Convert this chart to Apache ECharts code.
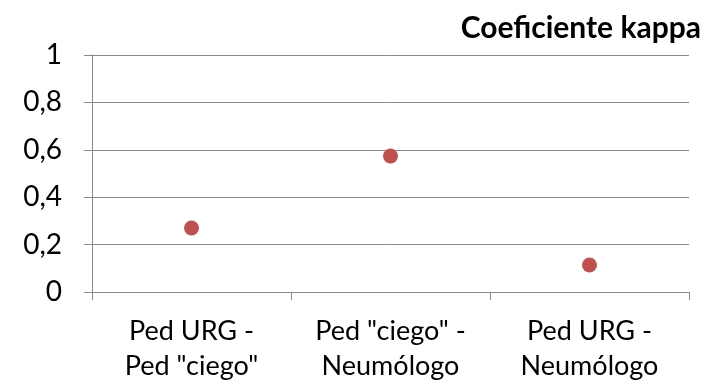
<!DOCTYPE html>
<html><head><meta charset="utf-8">
<script src="https://cdn.jsdelivr.net/npm/echarts@6/dist/echarts.min.js"></script>
<style>html,body{margin:0;padding:0;background:#fff}#c{width:723px;height:386px}</style>
</head><body><div id="c"></div>
<script>
const categories = ['Ped URG -\nPed "ciego"', 'Ped "ciego" -\nNeumólogo', 'Ped URG -\nNeumólogo'];
const kappaValues = [0.27, 0.574, 0.114];
const titleText = 'Coeficiente kappa';

const chart = echarts.init(document.getElementById('c'));
const font = 'Lato, "Open Sans", sans-serif';
chart.setOption({
  animation: false,
  title: { text: titleText, right: 17, top: 8,
    textStyle: { fontFamily: font, fontWeight: 'bold', fontSize: 30, color: '#000' } },
  grid: { left: 92, right: 34, top: 55, bottom: 94 },
  xAxis: {
    type: 'category', data: categories, boundaryGap: true,
    axisLine: { lineStyle: { color: '#888', width: 1 } },
    axisTick: { show: true, length: 8, lineStyle: { color: '#888' } },
    axisLabel: { fontFamily: font, fontSize: 27, color: '#000', margin: 22, lineHeight: 35,
      align: 'center', interval: 0, hideOverlap: false }
  },
  yAxis: {
    type: 'value', min: 0, max: 1, interval: 0.2,
    axisLine: { show: true, lineStyle: { color: '#888', width: 1 } },
    axisTick: { show: true, length: 8, lineStyle: { color: '#888' } },
    splitLine: { lineStyle: { color: '#888', width: 1 } },
    axisLabel: { fontFamily: font, fontSize: 28, color: '#000', margin: 30,
      formatter: v => String(Math.round(v * 10) / 10).replace('.', ',') }
  },
  series: [{ type: 'scatter', data: kappaValues, symbolSize: 15,
    itemStyle: { color: '#C0504D', opacity: 1 } }]
});
</script></body></html>
